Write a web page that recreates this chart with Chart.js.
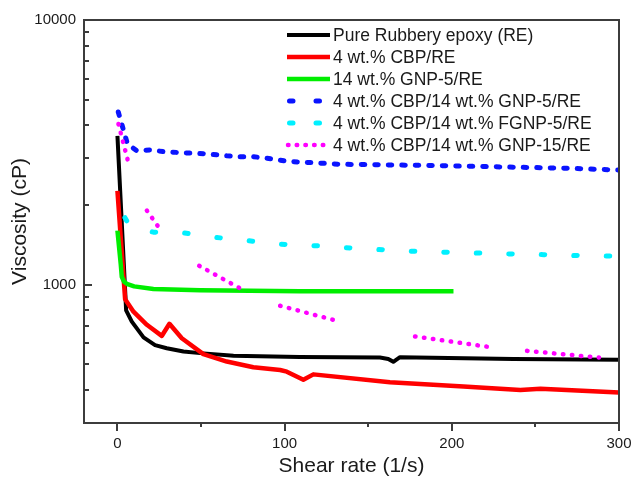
<!DOCTYPE html>
<html>
<head>
<meta charset="utf-8">
<script src="https://cdn.jsdelivr.net/npm/chart.js@4/dist/chart.umd.min.js"></script>
<style>
  html, body { margin: 0; padding: 0; background: #fff; }
  canvas { display: block; }
</style>
</head>
<body>
<canvas id="viscosityChart" width="633" height="484"></canvas>
<script>
// Shear rate (1/s) and viscosity (cP) for each formulation
const pureX = [0, 5.2, 8.6, 15.6, 22.5, 29.5, 39.5, 49.5, 69.4, 109, 157, 162, 165, 169, 237, 300];
const pureY = [3650, 800, 725, 632, 591, 575, 559, 551, 539, 533, 530, 524, 511, 532, 523, 520];

const cbpX = [0, 4.6, 9.6, 17.6, 26.5, 31.1, 38.5, 51.4, 65.4, 81.3, 97.3, 101.3, 111.2, 117.2, 163, 207, 241, 253, 300];
const cbpY = [2260, 880, 790, 705, 640, 711, 627, 546, 512, 487, 476, 469, 437, 458, 428, 412, 400, 404, 391];

const gnpX = [0, 2, 2.6, 4, 5.6, 10, 21.5, 49.5, 109, 201];
const gnpY = [1600, 1190, 1071, 1025, 1007, 985, 962, 952, 945, 945];

const cbpGnpX = [0.5, 6, 11.6, 19.6, 27.5, 37.5, 45.5, 53.5, 65.4, 73.4, 81.3, 93.3, 102.3, 112.3, 133, 187, 217, 267, 300];
const cbpGnpY = [4490, 3400, 3205, 3230, 3180, 3155, 3135, 3120, 3070, 3045, 3045, 2980, 2920, 2900, 2850, 2820, 2795, 2755, 2710];

const cbpFgnpX = [4.5, 7, 21.5, 37.5, 59.4, 77.3, 97.3, 122, 142, 161.5, 181.5, 208, 228, 255, 275, 300];
const cbpFgnpY = [1790, 1680, 1578, 1575, 1507, 1467, 1422, 1400, 1372, 1352, 1333, 1321, 1309, 1298, 1288, 1280];

// null rows mark the breaks between the measured stretches
const cbpGnp15X = [0.6, 6.3, null, 17.6, 25.5, null, 48.9, 75.8, null, 97.3, 130.2, null, 178, 221, null, 245, 288];
const cbpGnp15Y = [4045, 2930, null, 1905, 1619, null, 1178, 949, null, 832, 733, null, 637, 583, null, 562, 530];

const seriesLabels = [
  'Pure Rubbery epoxy (RE)',
  '4 wt.% CBP/RE',
  '14 wt.% GNP-5/RE',
  '4 wt.% CBP/14 wt.% GNP-5/RE',
  '4 wt.% CBP/14 wt.% FGNP-5/RE',
  '4 wt.% CBP/14 wt.% GNP-15/RE'
];

const xMajorTicks = [0, 100, 200, 300];
const xMinorTicks = [50, 150, 250];
const yMajorTicks = [1000, 10000];
const yMinorTicks = [400, 500, 600, 700, 800, 900, 2000, 3000, 4000, 5000, 6000, 7000, 8000, 9000];

const AXIS_COLOR = '#3c3c3c';
const TEXT_COLOR = '#1a1a1a';
const FONT_FAMILY = "'Liberation Sans', Arial, Helvetica, sans-serif";

const toPoints = (xs, ys) => xs.map((x, i) => ({ x: x, y: ys[i] }));

function series(label, xs, ys, color, width, dash, legendDash, legendStart, legendEnd, cap) {
  return {
    label: label,
    data: toPoints(xs, ys),
    borderColor: color,
    backgroundColor: color,
    borderWidth: width,
    borderDash: dash,
    borderCapStyle: cap,
    borderJoinStyle: 'round',
    pointRadius: 0,
    pointHoverRadius: 0,
    tension: 0,
    fill: false,
    spanGaps: false,
    legendDash: legendDash,
    legendStart: legendStart,
    legendEnd: legendEnd
  };
}

const datasets = [
  series(seriesLabels[0], pureX, pureY, '#000000', 4, [], [], 287, 330, 'butt'),
  series(seriesLabels[1], cbpX, cbpY, '#ff0000', 4.5, [], [], 287, 330, 'butt'),
  series(seriesLabels[2], gnpX, gnpY, '#00ee00', 4.5, [], [], 287, 330, 'butt'),
  series(seriesLabels[3], cbpGnpX, cbpGnpY, '#0a14ff', 5, [3.5, 10], [3.5, 23], 289.5, 322, 'round'),
  series(seriesLabels[4], cbpFgnpX, cbpFgnpY, '#00f0ff', 5, [3.5, 29], [3.5, 23], 289.5, 322, 'round'),
  series(seriesLabels[5], cbpGnp15X, cbpGnp15Y, '#ff00ff', 4.5, [0.5, 8.5], [0.5, 8.2], 288, 324, 'round')
];
// later series are painted over earlier ones
datasets.forEach((ds, i) => { ds.order = datasets.length - i; });

// Inward ticks on the viscosity axis, outward ticks on the shear-rate axis, closed frame
const frameAndTicks = {
  id: 'frameAndTicks',
  afterDatasetsDraw(chart) {
    const { ctx, chartArea: a, scales: { x, y } } = chart;
    ctx.save();
    ctx.strokeStyle = AXIS_COLOR;
    ctx.lineWidth = 2;
    ctx.setLineDash([]);
    ctx.beginPath();
    ctx.moveTo(a.left - 1, a.top);
    ctx.lineTo(a.right, a.top);
    ctx.lineTo(a.right, a.bottom);
    for (const v of yMajorTicks) {
      const p = Math.round(y.getPixelForValue(v));
      ctx.moveTo(a.left, p); ctx.lineTo(a.left + 8, p);
    }
    for (const v of yMinorTicks) {
      const p = Math.round(y.getPixelForValue(v));
      ctx.moveTo(a.left, p); ctx.lineTo(a.left + 5, p);
    }
    for (const v of xMajorTicks) {
      const p = Math.round(x.getPixelForValue(v));
      ctx.moveTo(p, a.bottom); ctx.lineTo(p, a.bottom + 8);
    }
    for (const v of xMinorTicks) {
      const p = Math.round(x.getPixelForValue(v));
      ctx.moveTo(p, a.bottom); ctx.lineTo(p, a.bottom + 4);
    }
    ctx.stroke();
    ctx.restore();
  }
};

// Legend drawn inside the plot, with line samples in each series' own style
const inlineLegend = {
  id: 'inlineLegend',
  afterDraw(chart) {
    const { ctx, chartArea: a } = chart;
    const textX = a.left + 249;
    ctx.save();
    ctx.font = '17.5px ' + FONT_FAMILY;
    ctx.textBaseline = 'middle';
    ctx.textAlign = 'left';
    chart.data.datasets.forEach((ds, i) => {
      const rowY = a.top + 15 + i * 22;
      ctx.strokeStyle = ds.borderColor;
      ctx.lineWidth = ds.borderWidth;
      ctx.lineCap = ds.borderCapStyle;
      ctx.setLineDash(ds.legendDash);
      ctx.beginPath();
      ctx.moveTo(ds.legendStart, rowY);
      ctx.lineTo(ds.legendEnd, rowY);
      ctx.stroke();
      ctx.setLineDash([]);
      ctx.fillStyle = TEXT_COLOR;
      ctx.fillText(ds.label, textX, rowY + 1);
    });
    ctx.restore();
  }
};

Chart.defaults.font.family = FONT_FAMILY;
Chart.defaults.color = TEXT_COLOR;

new Chart(document.getElementById('viscosityChart'), {
  type: 'line',
  data: { datasets: datasets },
  options: {
    responsive: false,
    animation: false,
    devicePixelRatio: 1,
    layout: { padding: { top: 20, right: 14, left: 0, bottom: 0 } },
    plugins: {
      legend: { display: false },
      tooltip: { enabled: false }
    },
    scales: {
      x: {
        type: 'linear',
        min: -20,
        max: 300,
        afterBuildTicks: (scale) => { scale.ticks = xMajorTicks.map(v => ({ value: v })); },
        afterFit: (scale) => {
          scale.height = 61;
          // the end labels may spill into the page margin
          scale.paddingLeft = 0;
          scale.paddingRight = 0;
        },
        grid: { display: false, drawTicks: false },
        border: { display: true, color: AXIS_COLOR, width: 2 },
        ticks: {
          padding: 12,
          color: TEXT_COLOR,
          font: { size: 15 },
          maxRotation: 0,
          callback: (v) => String(v)
        },
        title: {
          display: true,
          text: 'Shear rate (1/s)',
          color: TEXT_COLOR,
          font: { size: 21 },
          padding: { top: 0, bottom: 5 }
        }
      },
      y: {
        type: 'logarithmic',
        min: 300,
        max: 10000,
        afterBuildTicks: (scale) => { scale.ticks = yMajorTicks.map(v => ({ value: v, major: true })); },
        afterFit: (scale) => {
          scale.width = 84;
          scale.paddingTop = 0;
          scale.paddingBottom = 0;
        },
        grid: { display: false, drawTicks: false },
        border: { display: true, color: AXIS_COLOR, width: 2 },
        ticks: {
          padding: 8,
          color: TEXT_COLOR,
          font: { size: 15 },
          callback: (v) => String(v)
        },
        title: {
          display: true,
          text: 'Viscosity (cP)',
          color: TEXT_COLOR,
          font: { size: 21 },
          padding: { top: 8, bottom: 0 }
        }
      }
    }
  },
  plugins: [frameAndTicks, inlineLegend]
});
</script>
</body>
</html>
